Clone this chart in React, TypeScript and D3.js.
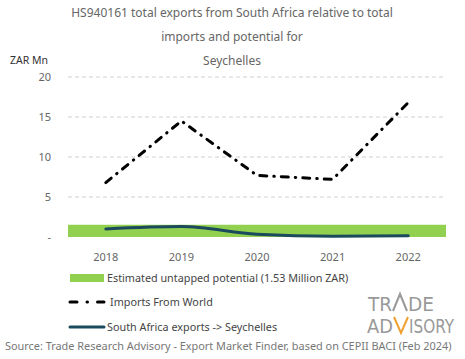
import React from "react";
import * as d3 from "d3";

const years = ["2018", "2019", "2020", "2021", "2022"];
const importsWorld = [6.8, 14.5, 7.7, 7.2, 16.8];
const saExports = [1.0, 1.3, 0.35, 0.1, 0.15];
const untappedPotential = 1.53;
const yTicks = [0, 5, 10, 15, 20];
const yTickLabels = ["-", "5", "10", "15", "20"];
const titleLines = [
  "HS940161 total exports from South Africa relative  to total",
  "imports and potential  for",
  "Seychelles",
];

const W = 465, H = 359;
const FONT = "'Noto Sans', 'DejaVu Sans', sans-serif";

export default function App() {
  const left = 68, right = 446, top = 77, bottom = 237;
  const x = d3.scaleBand().domain(years).range([left, right]);
  const y = d3.scaleLinear().domain([0, 20]).range([bottom, top]);
  const cx = (d: string) => (x(d) as number) + x.bandwidth() / 2;

  const line = d3.line<number>().x((_, i) => cx(years[i])).y((v) => y(v));
  const smooth = d3.line<number>().x((_, i) => cx(years[i])).y((v) => y(v)).curve(d3.curveMonotoneX);

  return (
    <svg width={W} height={H} style={{ position: "absolute", left: 0, top: 0, background: "#fff" }} fontFamily={FONT}>
      {titleLines.map((t, i) => (
        <text key={i} x={232} y={17 + i * 24} textAnchor="middle" fontSize={12} fill="#666">{t}</text>
      ))}
      <text x={10} y={64} fontSize={10.5} fill="#333">ZAR Mn</text>
      {yTicks.map((t, i) => (
        <g key={t}>
          {t > 0 && (
            <line x1={left} x2={right} y1={y(t)} y2={y(t)} stroke="#d0d0d0" strokeWidth={1} strokeDasharray="4,3" />
          )}
          <text x={51} y={y(t) + 4} textAnchor="end" fontSize={11} fill="#666">{yTickLabels[i]}</text>
        </g>
      ))}
      <rect x={left} y={y(untappedPotential)} width={right - left} height={y(0) - y(untappedPotential)} fill="#92d050" />
      <path d={line(importsWorld) || ""} fill="none" stroke="#000" strokeWidth={3} strokeLinecap="round" strokeDasharray="7,7,0.5,7" />
      <path d={smooth(saExports) || ""} fill="none" stroke="#1a4a5c" strokeWidth={3} strokeLinecap="round" />
      {years.map((yr) => (
        <text key={yr} x={cx(yr)} y={261} textAnchor="middle" fontSize={11} fill="#666">{yr}</text>
      ))}
      <rect x={70} y={274} width={34} height={8} fill="#92d050" />
      <text x={107} y={282} fontSize={10.8} fill="#444">Estimated untapped potential (1.53 Million ZAR)</text>
      <path d="M70,302 L104,302" stroke="#000" strokeWidth={3} strokeLinecap="round" strokeDasharray="7,10,0.5,10" />
      <text x={110} y={306} fontSize={10.8} fill="#444">Imports From World</text>
      <line x1={70} x2={104} y1={327} y2={327} stroke="#1a4a5c" strokeWidth={3} strokeLinecap="round" />
      <text x={107} y={331} fontSize={10.8} fill="#444">South Africa exports -&gt; Seychelles</text>
      <text x={5} y={350} fontSize={10.9} fill="#777">Source: Trade Research Advisory - Export Market Finder, based on CEPII BACI (Feb 2024)</text>
      <g fill="#999" fontFamily="'Liberation Sans Narrow', 'DejaVu Sans Condensed', sans-serif" fontSize={20}>
        <text x={368} y={311} textLength={24} lengthAdjust="spacingAndGlyphs">TR</text>
        <path d="M393,311 L400,294 L407,311" fill="none" stroke="#999" strokeWidth={2} />
        <text x={408} y={311} textLength={26} lengthAdjust="spacingAndGlyphs">DE</text>
        <text x={367} y={333} textLength={26} lengthAdjust="spacingAndGlyphs">AD</text>
        <path d="M394,317 L401,333 L408,317" fill="none" stroke="#f0a030" strokeWidth={2} />
        <text x={409} y={333} textLength={45} lengthAdjust="spacingAndGlyphs">ISORY</text>
      </g>
    </svg>
  );
}
